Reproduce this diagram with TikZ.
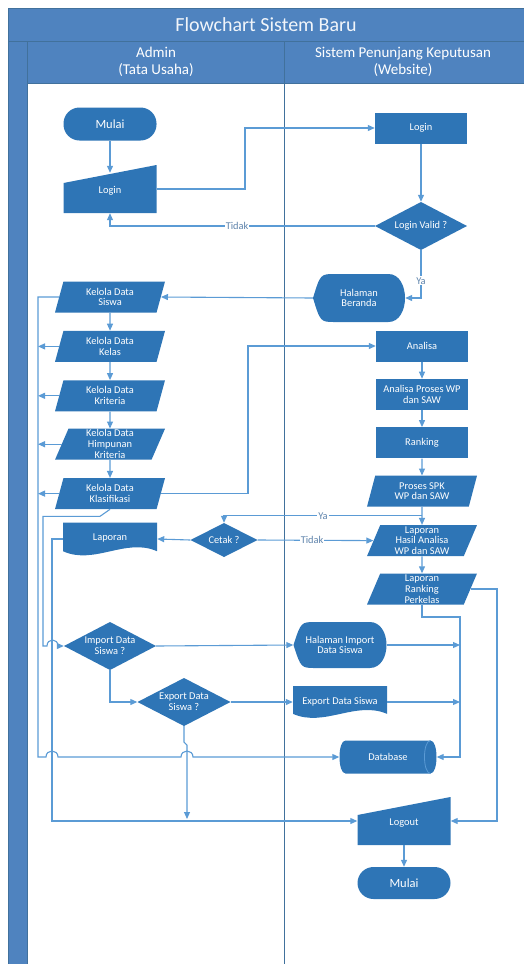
\documentclass[tikz,border=0pt]{standalone}
\usepackage{fontspec}
\setmainfont{Carlito}
\usepackage{tikz}
\usetikzlibrary{shapes}
\usetikzlibrary{shapes.geometric}
\usetikzlibrary{arrows.meta}
\usetikzlibrary{calc}
\usetikzlibrary{positioning}
\usepackage{xcolor}
\definecolor{mybiru}{HTML}{2E75B6}
\definecolor{mygaris}{HTML}{5B9BD5}
\definecolor{mylane}{HTML}{4F83BF}
\definecolor{mybingkai}{HTML}{41719C}
\definecolor{mylabel}{HTML}{5F84AC}
\tikzset{every text node part/.style={align=center}, every node/.append style={font={\fontsize{10.4}{10.8}\selectfont}}}
\tikzstyle{terminal} = [rectangle, rounded corners=16pt, fill=mybiru, text=white, minimum width=93pt, minimum height=33pt, font={\fontsize{12.5}{14}\selectfont}]
\tikzstyle{proses} = [rectangle, fill=mybiru, text=white, minimum width=92pt, minimum height=31pt, inner sep=0pt]
\tikzstyle{data} = [trapezium, trapezium left angle=65, trapezium right angle=115, trapezium stretches body, fill=mybiru, text=white, minimum width=110pt, minimum height=31pt, inner sep=0pt]
\tikzstyle{keputusan} = [rectangle, text=white, minimum width=92pt, minimum height=48pt, inner sep=0pt, path picture={
    \fill[mybiru] let \p1=(path picture bounding box.south west), \p2=(path picture bounding box.north east) in
      ({(\x1+\x2)/2},\y1) -- (\x2,{(\y1+\y2)/2}) -- ({(\x1+\x2)/2},\y2) -- (\x1,{(\y1+\y2)/2}) -- cycle;}]
\tikzstyle{manual} = [rectangle, text=white, minimum width=93pt, minimum height=48pt, inner sep=0pt, path picture={
    \fill[mybiru] let \p1=(path picture bounding box.south west), \p2=(path picture bounding box.north east) in
      (\x1,\y1) -- (\x2,\y1) -- (\x2,\y2) -- (\x1,{\y2-0.375*(\y2-\y1)}) -- cycle;}]
\tikzstyle{dokumen} = [rectangle, text=white, minimum width=94pt, minimum height=33pt, inner sep=0pt, path picture={
    \fill[mybiru] let \p1=(path picture bounding box.south west), \p2=(path picture bounding box.north east), \n1={\x2-\x1}, \n2={\y2-\y1} in
      (\x1,\y2) -- (\x2,\y2) -- (\x2,{\y1+0.13*\n2})
      .. controls ({\x2-0.33*\n1},{\y1+0.55*\n2}) and ({\x1+0.33*\n1},{\y1-0.3*\n2}) .. (\x1,{\y1+0.13*\n2}) -- cycle;}]
\tikzstyle{tampilan} = [rectangle, text=white, minimum width=92pt, minimum height=48pt, inner sep=0pt, path picture={
    \fill[mybiru] let \p1=(path picture bounding box.south west), \p2=(path picture bounding box.north east), \n1={\x2-\x1}, \n2={\y2-\y1} in
      (\x1,{\y1+0.5*\n2}) .. controls ({\x1+0.08*\n1},\y2) .. ({\x1+0.24*\n1},\y2) -- ({\x2-0.18*\n1},\y2)
      .. controls ({\x2+0.06*\n1},\y2) and ({\x2+0.06*\n1},\y1) .. ({\x2-0.18*\n1},\y1) -- ({\x1+0.24*\n1},\y1)
      .. controls ({\x1+0.08*\n1},\y1) .. (\x1,{\y1+0.5*\n2}) -- cycle;}]
\tikzstyle{simpan} = [rectangle, text=white, minimum width=97pt, minimum height=33pt, inner sep=0pt, path picture={
    \fill[mybiru] let \p1=(path picture bounding box.south west), \p2=(path picture bounding box.north east) in
      ({\x1+6pt},\y2) -- ({\x2-6pt},\y2) .. controls ({\x2+2pt},\y2) and ({\x2+2pt},\y1) .. ({\x2-6pt},\y1)
      -- ({\x1+6pt},\y1) .. controls ({\x1-2pt},\y1) and ({\x1-2pt},\y2) .. ({\x1+6pt},\y2) -- cycle;
    \draw[mygaris, line width=0.8pt] let \p1=(path picture bounding box.south west), \p2=(path picture bounding box.north east) in
      ({\x2-6pt},\y2) .. controls ({\x2-14pt},\y2) and ({\x2-14pt},\y1) .. ({\x2-6pt},\y1);}]
\tikzstyle{garis} = [draw=mygaris, line width=1.1pt]
\tikzstyle{panah} = [garis, -{Triangle[length=7pt,width=6pt]}]
\tikzstyle{ket} = [fill=white, text=mylabel, inner sep=1pt]

\begin{document}
\begin{tikzpicture}[x=1pt, y=-1pt]
  \useasboundingbox (0,0) rectangle (524,964);
  % Swimlanes
  \fill[mylane] (8,8) rectangle (524,41);
  \fill[mylane] (8,41) rectangle (27,964);
  \fill[mylane] (27,41) rectangle (524,83);
  \draw[mybingkai, line width=0.8pt] (8,964) -- (8,8) -- (524,8);
  \draw[mybingkai, line width=0.8pt] (8,41) -- (524,41);
  \draw[mybingkai, line width=0.8pt] (27,41) -- (27,964);
  \draw[mybingkai, line width=0.8pt] (27,83) -- (524,83);
  \draw[mybingkai, line width=0.9pt] (284,41) -- (284,964);
  \node[text=white!92!mylane, font={\fontsize{20}{24}\selectfont}] (judul) at (266,25) {Flowchart Sistem Baru};
  \node[text=white, font={\fontsize{15}{17}\selectfont}] (admin) at (156,62) {Admin\\(Tata Usaha)};
  \node[text=white, font={\fontsize{15}{17}\selectfont}] (sistem) at (403,62) {Sistem Penunjang Keputusan\\(Website)};

  % Nodes
  \node[terminal] (mulai) at (110,124) {Mulai};
  \node[manual] (login) at (110,189) {\raisebox{-10pt}{Login}};
  \node[proses] (loginweb) at (421,128) {Login};
  \node[keputusan] (valid) at (421,226) {Login Valid ?};
  \node[tampilan] (beranda) at (359,298) {Halaman\\Beranda};

  \node[data] (siswa) at (110,297) {Kelola Data\\Siswa};
  \node[data, below=18pt of siswa] (kelas) {Kelola Data\\Kelas};
  \node[data, below=18pt of kelas] (kriteria) {Kelola Data\\Kriteria};
  \node[data, below=17pt of kriteria] (himpunan) {Kelola Data\\Himpunan\\Kriteria};
  \node[data, below=18pt of himpunan] (klasifikasi) {Kelola Data\\Klasifikasi};

  \node[proses] (analisa) at (422,346) {Analisa};
  \node[proses, below=17pt of analisa] (proseswp) {Analisa Proses WP\\dan SAW};
  \node[proses, below=17pt of proseswp] (ranking) {Ranking};
  \node[data, below=17pt of ranking] (prosesspk) {Proses SPK\\WP dan SAW};
  \node[data, below=18pt of prosesspk] (hasil) {Laporan\\Hasil Analisa\\WP dan SAW};
  \node[data, below=17pt of hasil] (perkelas) {Laporan\\Ranking\\Perkelas};

  \node[dokumen] (laporan) at (110,539) {\raisebox{3pt}{Laporan}};
  \node[keputusan, minimum width=67pt, minimum height=34pt] (cetak) at (224,540) {Cetak ?};
  \node[keputusan] (impor) at (110,646) {Import Data\\Siswa ?};
  \node[tampilan, minimum width=93pt, minimum height=46pt] (halimpor) at (340,645) {Halaman Import\\Data Siswa};
  \node[keputusan, minimum width=93pt] (ekspor) at (184,702) {Export Data\\Siswa ?};
  \node[dokumen, minimum height=32pt] (eksporsiswa) at (340,702) {\raisebox{3pt}{Export Data Siswa}};
  \node[simpan] (database) at (388,757) {Database};
  \node[manual] (logout) at (404,821) {\raisebox{-10pt}{Logout}};
  \node[terminal, minimum height=32pt] (selesai) at (404,883) {Mulai};

  % Paths
  \draw[panah] (mulai) -- ($(login.north)+(0,8)$);
  \coordinate (belok1) at (245,160);
  \draw[panah] (login.east) -| (belok1) |- (loginweb.west);
  \draw[panah] (loginweb) -- (valid);
  \draw[panah] (valid.west) -| node[ket, pos=0.26] {Tidak} (login.south);
  \draw[panah] (valid.south) |- node[ket, pos=0.32] {Ya} (beranda.east);
  \draw[panah] (beranda.west) -- (siswa.east);

  \draw[panah] (siswa) -- (kelas);
  \draw[panah] (kelas) -- (kriteria);
  \draw[panah] (kriteria) -- (himpunan);
  \draw[panah] (himpunan) -- (klasifikasi);

  \coordinate (kiri1) at (38,757);
  \draw[panah] (siswa.west) -| (kiri1) -- (46,757) .. controls (46,749) and (58,749) .. (58,757)
    -- (181,757) .. controls (181,749) and (193,749) .. (193,757) -- (database.west);
  \draw[panah] (kelas.west) -- (kelas.west -| kiri1);
  \draw[panah] (kriteria.west) -- (kriteria.west -| kiri1);
  \draw[panah] (himpunan.west) -- (himpunan.west -| kiri1);
  \draw[panah] (klasifikasi.west) -- (klasifikasi.west -| kiri1);

  \coordinate (kiri2) at (43,646);
  \draw[panah] (klasifikasi.south) -- ++(-10,7) -| (kiri2) -- (47,646) .. controls (47,638) and (58,638) .. (58,646) -- (impor.west);
  \coordinate (tengah) at (248,420);
  \draw[panah] (klasifikasi.east) -| (tengah) |- (analisa.west);

  \draw[panah] (analisa) -- (proseswp);
  \draw[panah] (proseswp) -- (ranking);
  \draw[panah] (ranking) -- (prosesspk);
  \draw[panah] (prosesspk) -- (hasil);
  \draw[panah] (hasil) -- (perkelas);

  \draw[panah] ($(prosesspk.south)!0.5!(hasil.north)$) -| node[ket, pos=0.25] {Ya} (cetak.north);
  \draw[panah] (cetak.east) -- node[ket, pos=0.47] {Tidak} (hasil.west);
  \draw[panah] (cetak.west) -- (laporan.east);
  \coordinate (kiri3) at (52,700);
  \draw[panah] (laporan.west) -| (kiri3) |- (logout.west);

  \draw[panah] (impor.east) -- (halimpor.west);
  \draw[panah] (impor.south) |- (ekspor.west);
  \draw[panah] (ekspor.east) -- (eksporsiswa.west);
  \coordinate (bawah) at (187,819);
  \draw[panah] (ekspor.south) -- ++(0,16) -- ++(3,3) -- (bawah);

  \coordinate (kanan1) at (460,617);
  \draw[panah] (perkelas.south) |- (kanan1) |- (database.east);
  \draw[panah] (halimpor.east) -- (halimpor.east -| kanan1);
  \draw[panah] (eksporsiswa.east) -- (eksporsiswa.east -| kanan1);
  \coordinate (kanan2) at (497,700);
  \draw[panah] (perkelas.east) -| (kanan2) |- (logout.east);
  \draw[panah] (logout) -- (selesai);
\end{tikzpicture}
\end{document}
